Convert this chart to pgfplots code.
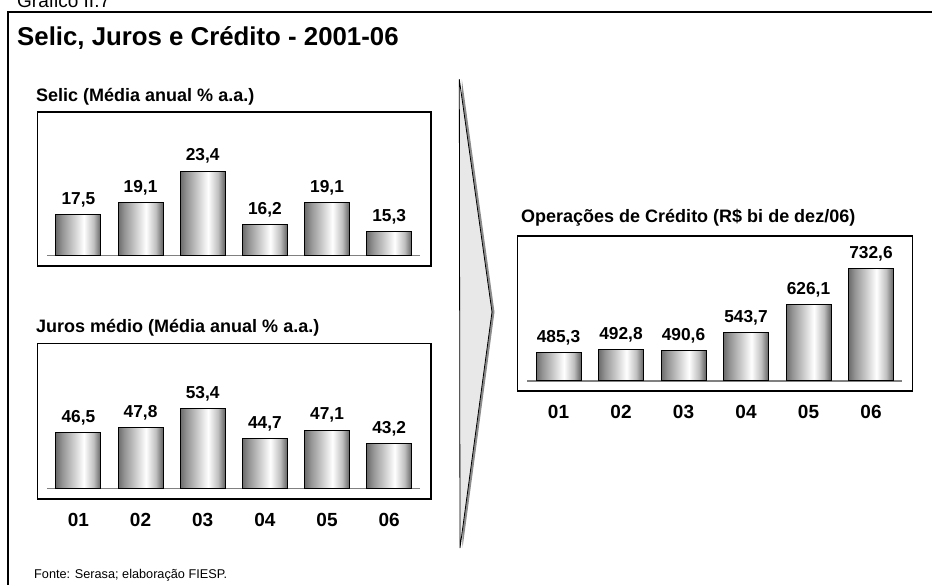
\documentclass[border=0pt]{standalone}
\usepackage{fontspec}
\setmainfont{Liberation Sans}
\usepackage{pgfplots}
\pgfplotsset{compat=1.18}

% cylinder-like shading of the bars (stops 25bp..75bp span the bar)
\pgfdeclarehorizontalshading{barshade}{100bp}{color(0bp)=(black!58); color(25bp)=(black!58); color(32bp)=(black!42); color(56bp)=(white); color(67bp)=(black!25); color(75bp)=(black!62); color(100bp)=(black!62)}

\pgfplotsset{
  minibar/.style={
    ybar, bar shift=0pt, scale only axis, width=373pt,
    xmin=-0.5, xmax=5.5, enlargelimits=false,
    axis x line=bottom, axis y line=none,
    x axis line style={-, draw=black!50, line width=1.3pt},
    xtick={0,...,5}, major tick length=0pt,
    bar width=45pt, clip=false, anchor=south west,
    nodes near coords,
    every node near coord/.append style={font=\fontsize{17.3}{19}\selectfont\bfseries, inner sep=0pt, anchor=south, yshift=7pt},
    xticklabel style={font=\fontsize{19}{21}\selectfont\bfseries, anchor=base, inner sep=0pt},
    /pgf/number format/use comma, /pgf/number format/fixed,
    /pgf/number format/fixed zerofill, /pgf/number format/precision=1,
    /pgf/number format/assume math mode=true,
  },
  barstyle/.style={draw=black, line width=1pt, shade, shading=barshade},
}

\begin{document}
\begin{tikzpicture}
\useasboundingbox (0,0) rectangle (932pt,585pt);
\begin{scope}
\clip (0,0) rectangle (932pt,585pt);
% header and frame
\node[anchor=base west, inner sep=0pt, font=\fontsize{19}{21}\selectfont] at (17pt,577.5pt) {Gráfico II.7};
\draw[line width=2pt] (7.7pt,-20pt) -- (7.7pt,573pt) -- (950pt,573pt);
\end{scope}
\node[anchor=base west, inner sep=0pt, font=\fontsize{25.8}{28}\selectfont\bfseries] at (17pt,539.3pt) {Selic, Juros e Crédito - 2001-06};

% arrow
\fill[black!45] (461.8pt,505.7pt) -- (494.5pt,273pt) -- (462.5pt,37pt) -- cycle;
\filldraw[fill=black!9, draw=black, line width=0.8pt] (459.3pt,505.7pt) -- (492pt,273pt) -- (460pt,37pt) -- cycle;

% Selic
\node[anchor=base west, inner sep=0pt, font=\fontsize{18}{20}\selectfont\bfseries] at (36pt,483pt) {Selic (Média anual \% a.a.)};
\draw[line width=1.2pt] (37.3pt,473pt) rectangle (431pt,319pt);
\begin{axis}[minibar, at={(47.3pt,329.3pt)}, height=133.7pt, ymin=12, ymax=30, xtick=\empty]
\addplot[barstyle] coordinates {(0,17.5)};
\addplot[barstyle] coordinates {(1,19.1)};
\addplot[barstyle] coordinates {(2,23.4)};
\addplot[barstyle] coordinates {(3,16.2)};
\addplot[barstyle] coordinates {(4,19.1)};
\addplot[barstyle] coordinates {(5,15.3)};
\end{axis}

% Juros medio
\node[anchor=base west, inner sep=0pt, font=\fontsize{18}{20}\selectfont\bfseries] at (36pt,252.3pt) {Juros médio (Média anual \% a.a.)};
\draw[line width=1.2pt] (37.3pt,241.7pt) rectangle (431pt,86pt);
\begin{axis}[minibar, at={(47.3pt,96.7pt)}, height=136pt, ymin=30, ymax=70,
  xticklabels={01,02,03,04,05,06}, xticklabel style={yshift=-38.5pt}]
\addplot[barstyle] coordinates {(0,46.5)};
\addplot[barstyle] coordinates {(1,47.8)};
\addplot[barstyle] coordinates {(2,53.4)};
\addplot[barstyle] coordinates {(3,44.7)};
\addplot[barstyle] coordinates {(4,47.1)};
\addplot[barstyle] coordinates {(5,43.2)};
\end{axis}

% Operacoes de credito
\node[anchor=base west, inner sep=0pt, font=\fontsize{18}{20}\selectfont\bfseries] at (521pt,362.7pt) {Operações de Crédito (R\$ bi de dez/06)};
\draw[line width=1.2pt] (517.3pt,349pt) rectangle (912.7pt,194pt);
\begin{axis}[minibar, at={(527.25pt,204pt)}, width=375pt, height=134.7pt, ymin=400, ymax=800,
  xticklabels={01,02,03,04,05,06}, xticklabel style={yshift=-37.5pt}]
\addplot[barstyle] coordinates {(0,485.3)};
\addplot[barstyle] coordinates {(1,492.8)};
\addplot[barstyle] coordinates {(2,490.6)};
\addplot[barstyle] coordinates {(3,543.7)};
\addplot[barstyle] coordinates {(4,626.1)};
\addplot[barstyle] coordinates {(5,732.6)};
\end{axis}

\node[anchor=base west, inner sep=0pt, font=\fontsize{12.7}{14}\selectfont] at (34pt,6.7pt) {Fonte: Serasa; elaboração FIESP.};
\end{tikzpicture}
\end{document}
